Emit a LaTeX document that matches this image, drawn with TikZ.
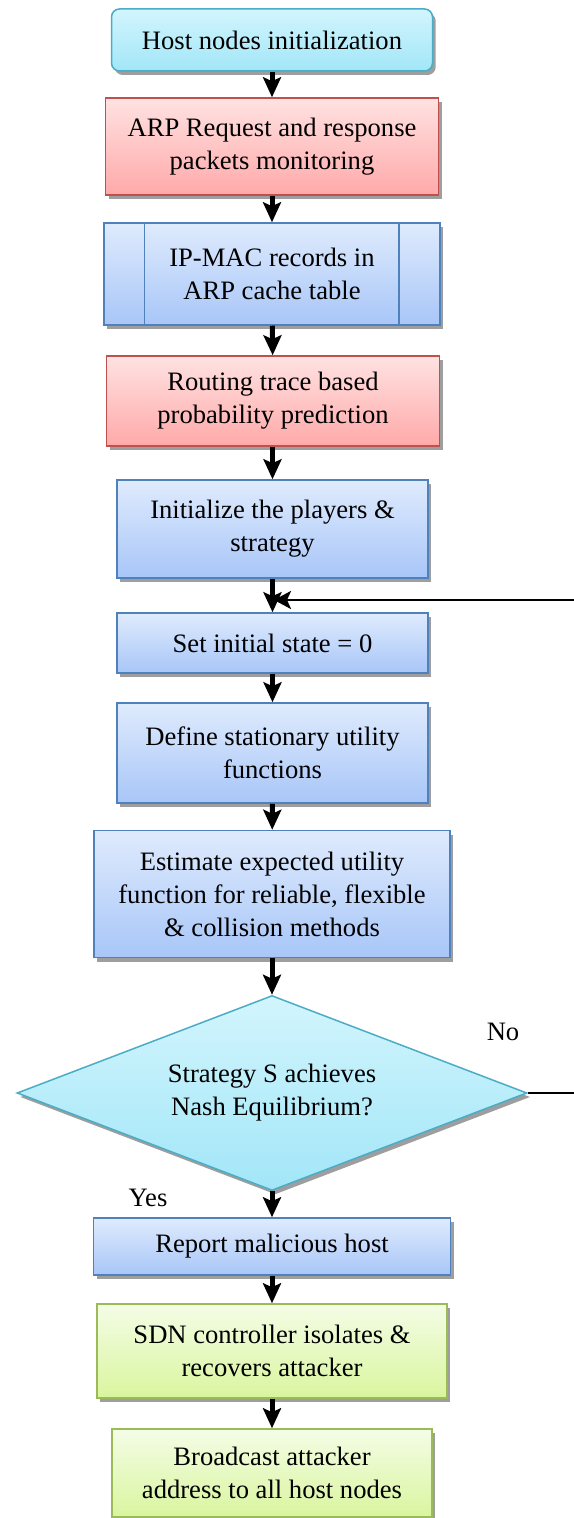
\documentclass[tikz,border=0pt]{standalone}
\usepackage{fontspec}
\setmainfont{LiberationSerif}[Extension=.ttf, UprightFont=*-Regular, BoldFont=*-Bold, ItalicFont=*-Italic]
\usetikzlibrary{shapes.geometric,shadows,arrows.meta}
\definecolor{cyTop}{HTML}{D2F5FD}
\definecolor{cyBot}{HTML}{A2E6F8}
\definecolor{cyBd}{HTML}{4BACC6}
\definecolor{rdTop}{HTML}{FFE2E2}
\definecolor{rdBot}{HTML}{FFA9A9}
\definecolor{rdBd}{HTML}{C0504D}
\definecolor{blTop}{HTML}{DFEBFD}
\definecolor{blBot}{HTML}{A8C6F8}
\definecolor{blBd}{HTML}{4F81BD}
\definecolor{gnTop}{HTML}{F4FDE6}
\definecolor{gnBot}{HTML}{D9F59E}
\definecolor{gnBd}{HTML}{9BBB59}
\tikzset{
  boxbase/.style={rectangle, align=center, inner sep=0pt, line width=0.75pt,
    font=\fontsize{13.3}{16.5}\selectfont,
    drop shadow={shadow xshift=1.6pt, shadow yshift=-2pt, fill=black!38, opacity=1}},
  cybox/.style={boxbase, draw=cyBd, top color=cyTop, bottom color=cyBot},
  rdbox/.style={boxbase, draw=rdBd, top color=rdTop, bottom color=rdBot},
  blbox/.style={boxbase, draw=blBd, top color=blTop, bottom color=blBot},
  gnbox/.style={boxbase, draw=gnBd, top color=gnTop, bottom color=gnBot},
  arr/.style={line width=2.5pt, -{Stealth[length=10pt,width=9pt,inset=2pt]}, black},
  fbarr/.style={line width=1.25pt, -{Stealth[length=8.5pt,width=9pt,inset=2pt]}, black},
  lbl/.style={font=\fontsize{13.3}{16.5}\selectfont, inner sep=0pt}
}
\begin{document}
\begin{tikzpicture}[x=0.5pt,y=-0.5pt]
\useasboundingbox (0,0) rectangle (573,1518);
\node[cybox, rounded corners=4pt, minimum width=160.5pt, minimum height=31pt] (b1) at (272,40) {Host nodes initialization};
\node[rdbox, minimum width=166.5pt, minimum height=48.5pt] (b2) at (272,146.5) {ARP Request and response\\packets monitoring};
\node[blbox, minimum width=168pt, minimum height=51pt] (b3) at (272,274) {IP-MAC records in\\ARP cache table};
\draw[draw=blBd, line width=0.75pt] ([xshift=20.5pt]b3.north west) -- ([xshift=20.5pt]b3.south west);
\draw[draw=blBd, line width=0.75pt] ([xshift=-21pt]b3.north east) -- ([xshift=-21pt]b3.south east);
\node[rdbox, minimum width=166.5pt, minimum height=45pt] (b4) at (273,401) {Routing trace based\\probability prediction};
\node[blbox, minimum width=155.5pt, minimum height=49pt] (b5) at (272.5,529) {Initialize the players \&\\strategy};
\node[blbox, minimum width=155.5pt, minimum height=30pt] (b6) at (272.5,643) {Set initial state = 0};
\node[blbox, minimum width=155.5pt, minimum height=50pt] (b7) at (272.5,753) {Define stationary utility\\functions};
\node[blbox, minimum width=178pt, minimum height=63.5pt] (b8) at (272,894) {Estimate expected utility\\function for reliable, flexible\\\& collision methods};
\node[cybox, diamond, aspect=2.6, minimum width=255pt, minimum height=97.5pt] (dia) at (272,1093) {Strategy S achieves\\Nash Equilibrium?};
\node[blbox, minimum width=178.5pt, minimum height=28.5pt] (b9) at (272,1246.5) {Report malicious host};
\node[gnbox, minimum width=175pt, minimum height=47pt] (b10) at (272,1351) {SDN controller isolates \&\\recovers attacker};
\node[gnbox, minimum width=160pt, minimum height=44pt] (b11) at (272,1473) {Broadcast attacker\\address to all host nodes};
\node[lbl] (no) at (503,1032) {No};
\node[lbl] (yes) at (148,1198) {Yes};
\coordinate (fbin) at (274,600);
\coordinate (fbtop) at (576,600);
\coordinate (fbbot) at (576,1093);
\draw[arr] (b1) -- (b2);
\draw[arr] (b2) -- (b3);
\draw[arr] (b3) -- (b4);
\draw[arr] (b4.south -| b5) -- (b5);
\draw[arr] (b5) -- (b6);
\draw[arr] (b6) -- (b7);
\draw[arr] (b7) -- (b8);
\draw[arr] (b8) -- (dia);
\draw[arr] (dia) -- (b9);
\draw[arr] (b9) -- (b10);
\draw[arr] (b10) -- (b11);
\draw[fbarr] (dia.east) -- (fbbot) -- (fbtop) -- (fbin);
\end{tikzpicture}
\end{document}
